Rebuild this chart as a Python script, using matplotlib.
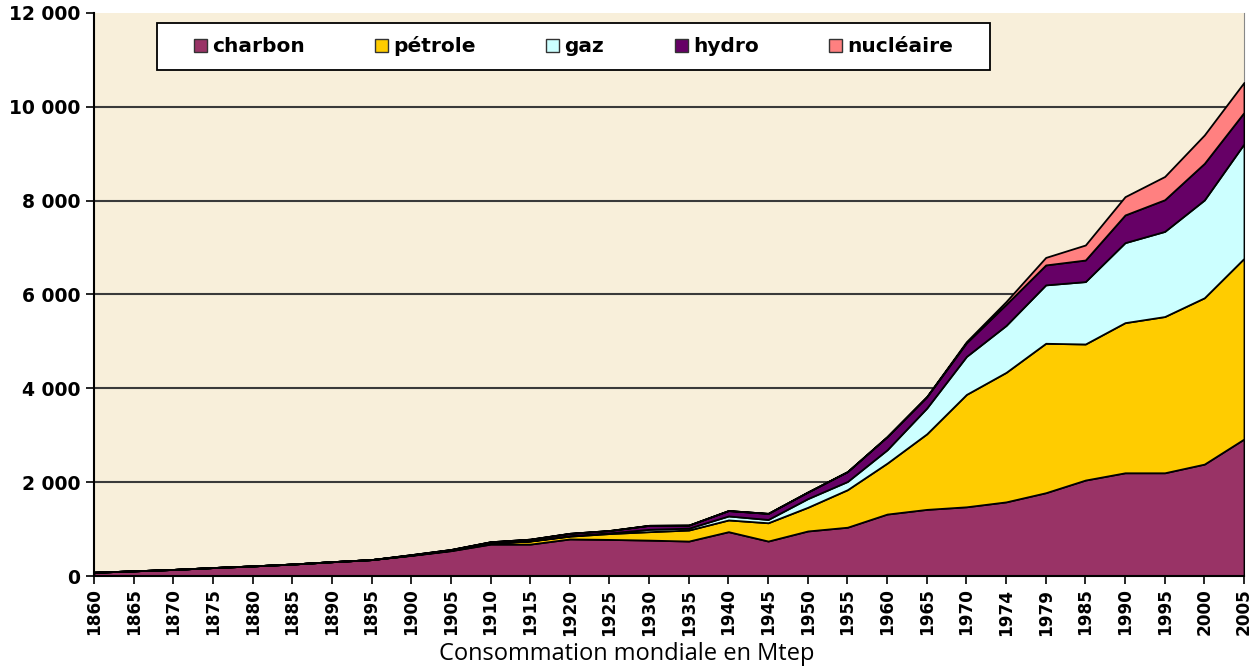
import matplotlib
matplotlib.use("Agg")
import matplotlib.pyplot as plt
import numpy as np
from matplotlib.patches import Patch, Rectangle

years = ["1860", "1865", "1870", "1875", "1880", "1885", "1890", "1895", "1900", "1905",
         "1910", "1915", "1920", "1925", "1930", "1935", "1940", "1945", "1950", "1955",
         "1960", "1965", "1970", "1974", "1979", "1985", "1990", "1995", "2000", "2005"]

charbon = [80, 110, 140, 180, 215, 255, 305, 350, 440, 540,
           680, 680, 790, 780, 765, 745, 945, 745, 960, 1040,
           1320, 1420, 1475, 1580, 1775, 2045, 2200, 2200, 2385, 2920]
petrole = [0, 0, 0, 0, 0, 0, 0, 0, 5, 10,
           20, 65, 60, 125, 180, 235, 250, 390, 505, 800,
           1085, 1610, 2395, 2760, 3185, 2900, 3200, 3330, 3545, 3850]
gaz = [0, 0, 0, 0, 0, 0, 0, 0, 0, 0,
       5, 5, 10, 15, 50, 40, 85, 70, 185, 175,
       285, 550, 810, 1000, 1245, 1330, 1705, 1815, 2085, 2440]
hydro = [0, 0, 0, 0, 0, 0, 0, 0, 10, 15,
         25, 35, 50, 50, 85, 65, 115, 130, 140, 210,
         280, 240, 290, 450, 425, 460, 590, 675, 780, 670]
nucleaire = [0, 0, 0, 0, 0, 0, 0, 0, 0, 0,
             0, 0, 0, 0, 0, 0, 0, 0, 0, 0,
             0, 5, 25, 60, 160, 320, 390, 495, 605, 640]

series = [charbon, petrole, gaz, hydro, nucleaire]
names = ["charbon", "pétrole", "gaz", "hydro", "nucléaire"]
colors = ["#993366", "#FFCC00", "#CCFFFF", "#660066", "#FF8080"]

y_ticks = [0, 2000, 4000, 6000, 8000, 10000, 12000]
y_labels = ["0", "2 000", "4 000", "6 000", "8 000", "10 000", "12 000"]

fig = plt.figure(figsize=(12.53, 6.69), dpi=100)
fig.patch.set_facecolor("white")
ax = fig.add_axes([0.075, 0.139, 0.9178, 0.8416])
ax.set_facecolor("#f8efda")

x = np.arange(len(years))
ax.stackplot(x, *series, colors=colors, edgecolor="black", linewidth=1.3, zorder=3)

ax.set_xlim(0, len(years) - 1)
ax.set_ylim(0, 12000)
ax.set_yticks(y_ticks)
ax.set_yticklabels(y_labels, fontsize=13.5, fontweight="bold")
ax.set_xticks(x)
ax.set_xticklabels(years, rotation=90, fontsize=12.2, fontweight="bold")
ax.tick_params(axis="both", direction="out", length=6, width=1.2, color="black")
ax.tick_params(axis="y", pad=4)
ax.tick_params(axis="x", pad=3)

for v in y_ticks[1:-1]:
    ax.axhline(v, color="#3a3a3a", linewidth=1.5, zorder=1)

ax.spines["top"].set_visible(False)
ax.spines["right"].set_color("#888888")
ax.spines["left"].set_linewidth(1.5)
ax.spines["bottom"].set_linewidth(1.5)
ax.spines["left"].set_zorder(5)
ax.spines["bottom"].set_zorder(5)

# legend box
box = Rectangle((0.055, 0.899), 0.724, 0.083, transform=ax.transAxes,
                facecolor="white", edgecolor="black", linewidth=1.3, zorder=9)
ax.add_patch(box)

handles = [Patch(facecolor=c, edgecolor="#333333", linewidth=1.0) for c in colors]
leg = ax.legend(handles, names, ncol=5, loc="center",
                bbox_to_anchor=(0.417, 0.9405),
                prop={"weight": "bold", "size": 14.5}, frameon=False,
                handlelength=0.65, handleheight=0.65, handletextpad=0.25,
                columnspacing=3.5, borderaxespad=0, borderpad=0)
leg.set_zorder(10)

fig.text(0.5, 0.004, "Consommation mondiale en Mtep", ha="center", va="bottom",
         fontsize=17, family=["Open Sans", "DejaVu Sans"])

fig.savefig("out.png", dpi=100)
